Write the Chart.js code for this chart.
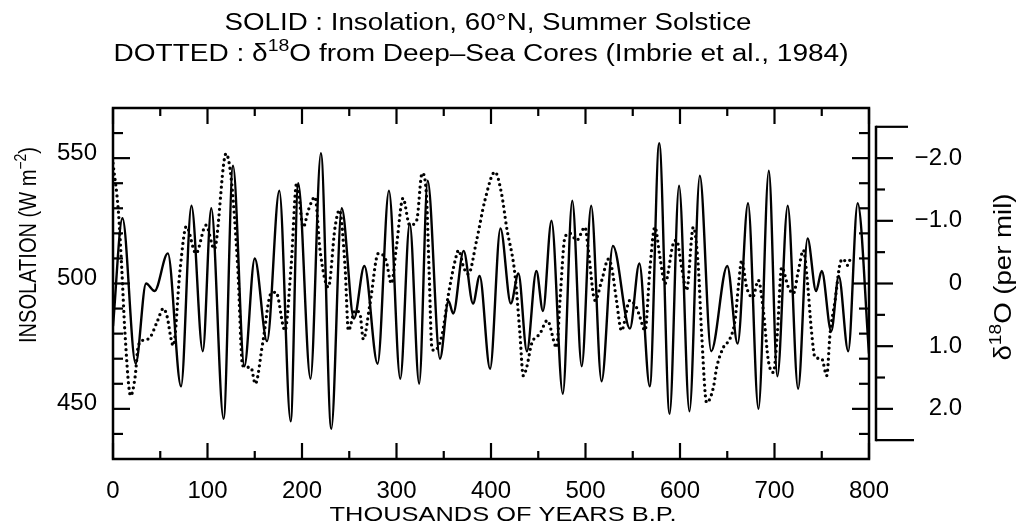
<!DOCTYPE html>
<html>
<head>
<meta charset="utf-8">
<script src="https://cdn.jsdelivr.net/npm/chart.js@4.4.1/dist/chart.umd.min.js"></script>
<style>
html,body{margin:0;padding:0;background:#ffffff;}
#wrap{width:1026px;height:524px;position:relative;}
</style>
</head>
<body>
<div id="wrap"><canvas id="c" width="1026" height="524"></canvas></div>
<script>
// ---- data ----
const insolKyr = [0,10,24,35,44,58,72,83,95,104,117,127,139,150,163,176,188,196,209,220,231,242,255,266,280,292,304,314,324,333,346,355,360,371,381,388,399,410,421,429,438,448,455,464,476,486,496,506,517,529,547,557,568,578,589,599,610,621,633,650,661,672,683,694,703,714,725,735,744,750,760,768,778,788,800];
const insolWm2 = [483,526,468,500,497,512,459,531,473,530,446,547,467,510,477,537,445,540,462,552,442,530,486,507,468,537,462,524,460,541,470,493,488,513,492,503,466,522,492,504,473,505,489,525,456,533,467,531,461,515,482,508,459,556,448,539,449,543,473,507,476,532,450,545,463,531,458,518,497,505,481,503,473,532,472];

const d18oKyr = [0,5.6,9.2,12.7,18.7,23.3,26.8,33,39.2,47,53.3,56.8,63.8,70.9,77.6,87.8,98.4,107.2,119.6,124.9,132,137.2,146,150.6,158.3,167.2,172.5,182,188.4,194.4,201.4,206.7,213.8,219.1,227.9,235,239.6,245.6,249.1,256.2,261.4,264.9,271.9,280.8,288.9,294.6,299.9,306.9,314,321.4,327.1,331.6,334.5,337.4,340.2,348,355.1,362.1,365.7,371,376,384.8,393.6,404.2,411.2,416.5,425.3,430.6,434.1,437.7,443,451.8,459.6,469.5,473,478.3,483.6,490.7,499.5,503,510.1,517.2,524.3,527.7,532.8,538.1,546.9,553.9,557.7,563,568.3,573.4,578.8,584.1,592.9,596.4,601.7,607,614.1,619.4,622.9,628.2,635.3,638.8,645.9,652.9,658.2,661.7,665.3,670.5,676.9,682.9,688.2,693.5,698.8,703,707.6,714.7,720,725.3,730.6,734.1,739.4,742.9,750,755.3,758.8,764.1,769.4,772.9,777.2,780.7];
const d18oPermil = [-1.92,-1.17,-0.26,0.8,1.79,1.5,0.99,0.9,0.86,0.6,0.4,0.5,0.99,-0.21,-0.91,-0.48,-0.93,-0.55,-2.07,-1.7,-0.26,1.31,1.34,1.6,0.96,0.16,0.14,0.75,-0.26,-1.6,-0.9,-1.17,-1.38,-0.53,0.06,-0.9,-1.17,-0.26,0.75,0.43,0.49,0.89,0.33,-0.48,-0.37,0.0,-0.58,-1.36,-0.93,-1.01,-1.76,-1.43,-0.2,1.02,1.07,0.83,0.16,-0.37,-0.53,-0.26,-0.15,-0.69,-1.33,-1.78,-1.43,-0.9,-0.15,0.8,1.47,1.34,0.96,0.8,0.59,1.02,0.27,-0.74,-0.8,-0.69,-0.9,-0.53,0.27,-0.05,-0.39,-0.26,0.27,0.75,0.27,0.38,0.54,0.75,-0.26,-0.9,-0.42,0.0,-0.64,-0.69,-0.26,0.11,-0.9,-0.26,0.8,1.9,1.66,1.34,1.02,0.88,0.59,0.06,-0.37,0.06,0.22,-0.05,0.43,1.23,1.42,0.8,-0.26,0.06,0.16,-0.21,-0.53,-0.15,0.8,1.18,1.2,1.47,0.8,0.27,-0.32,-0.39,-0.29,-0.42];

// ---- ticks and labels ----
const xMajorTicks = [0,100,200,300,400,500,600,700,800];
const xMinorTicks = [50,150,250,350,450,550,650,750];
const yMajorTicks = [450,500,550];
const yMinorTicks = [440,460,470,480,490,510,520,530,540,560];
const y2MajorTicks = [-2,-1,0,1,2];
const y2MinorTicks = [-1.5,-0.5,0.5,1.5];
const y2BracketEnds = [-2.5,2.5];

// text pieces: [text, isSuperscript]
const titleLine1 = [["SOLID : Insolation, 60°N, Summer Solstice", false]];
const titleLine2 = [["DOTTED : δ", false], ["18", true], ["O from Deep\u2013Sea Cores (Imbrie et al., 1984)", false]];
const xTitle = [["THOUSANDS OF YEARS B.P.", false]];
const yTitle = [["INSOLATION (W m", false], ["\u22122", true], [")", false]];
const y2Title = [["δ", false], ["18", true], ["O (per mil)", false]];

const FONT = '"Liberation Sans", Arial, "DejaVu Sans", sans-serif';
const SUP_SCALE = 0.68;

function drawRich(ctx, pieces, cx, cy, size, targetW, rot) {
  ctx.save();
  const fMain = size + 'px ' + FONT;
  const fSup = Math.round(size * SUP_SCALE) + 'px ' + FONT;
  let total = 0;
  const widths = pieces.map(([t, sup]) => { ctx.font = sup ? fSup : fMain; const w = ctx.measureText(t).width; total += w; return w; });
  ctx.translate(cx, cy);
  if (rot) ctx.rotate(rot);
  ctx.scale(targetW / total, 1);
  ctx.textAlign = 'left';
  ctx.textBaseline = 'middle';
  ctx.fillStyle = '#000';
  let x = -total / 2;
  pieces.forEach(([t, sup], i) => {
    ctx.font = sup ? fSup : fMain;
    ctx.fillText(t, x, sup ? -size * 0.36 : 0);
    x += widths[i];
  });
  ctx.restore();
}

const decorPlugin = {
  id: 'decor',
  afterDraw(chart) {
    const ctx = chart.ctx;
    const ca = chart.chartArea;
    const xs = chart.scales.x, ys = chart.scales.y, y2 = chart.scales.y2;
    ctx.save();
    ctx.strokeStyle = '#000';
    ctx.lineWidth = 2.5;
    ctx.lineCap = 'butt';
    ctx.strokeRect(ca.left, ca.top, ca.right - ca.left, ca.bottom - ca.top);
    ctx.lineWidth = 2.2;
    const seg = (x1, y1, x2, y2_) => { ctx.beginPath(); ctx.moveTo(x1, y1); ctx.lineTo(x2, y2_); ctx.stroke(); };
    xMajorTicks.forEach(v => { const p = xs.getPixelForValue(v); seg(p, ca.bottom, p, ca.bottom - 16); seg(p, ca.top, p, ca.top + 16); });
    xMinorTicks.forEach(v => { const p = xs.getPixelForValue(v); seg(p, ca.bottom, p, ca.bottom - 8); seg(p, ca.top, p, ca.top + 8); });
    yMajorTicks.forEach(v => { const p = ys.getPixelForValue(v); seg(ca.left, p, ca.left + 17, p); seg(ca.right, p, ca.right - 17, p); });
    yMinorTicks.forEach(v => { const p = ys.getPixelForValue(v); seg(ca.left, p, ca.left + 10, p); seg(ca.right, p, ca.right - 10, p); });
    // right bracket axis for delta 18O
    const bx = ca.right + 7;
    const bt = y2.getPixelForValue(y2BracketEnds[0]);
    const bb = y2.getPixelForValue(y2BracketEnds[1]);
    ctx.lineWidth = 2.5;
    seg(bx, bt - 1, bx, bb + 1);
    ctx.lineWidth = 2.2;
    seg(bx, bt, bx + 32, bt);
    seg(bx, bb, bx + 38, bb);
    y2MajorTicks.forEach(v => { const p = y2.getPixelForValue(v); seg(bx, p, bx + 17, p); });
    y2MinorTicks.forEach(v => { const p = y2.getPixelForValue(v); seg(bx, p, bx + 9, p); });
    ctx.restore();
    // titles
    drawRich(ctx, titleLine1, 488, 24, 23, 527, 0);
    drawRich(ctx, titleLine2, 481, 55, 23, 735, 0);
    drawRich(ctx, xTitle, 503, 515, 21, 347, 0);
    drawRich(ctx, yTitle, 30, 245, 23, 196, -Math.PI / 2);
    drawRich(ctx, y2Title, 1005, 277, 23, 167, -Math.PI / 2);
  }
};

const insolPoints = insolKyr.map((k, i) => ({ x: k, y: insolWm2[i] }));
const d18oPoints = d18oKyr.map((k, i) => ({ x: k, y: d18oPermil[i] }));

new Chart(document.getElementById('c'), {
  type: 'line',
  data: {
    datasets: [
      {
        label: 'Insolation, 60°N, Summer Solstice',
        data: insolPoints,
        yAxisID: 'y',
        borderColor: '#000',
        borderWidth: 2.4,
        pointRadius: 0,
        fill: false,
        cubicInterpolationMode: 'monotone'
      },
      {
        label: 'δ18O from Deep-Sea Cores',
        data: d18oPoints,
        yAxisID: 'y2',
        borderColor: '#000',
        borderWidth: 3.3,
        borderDash: [0, 5.5],
        borderCapStyle: 'round',
        pointRadius: 0,
        fill: false,
        cubicInterpolationMode: 'monotone'
      }
    ]
  },
  options: {
    responsive: false,
    animation: false,
    devicePixelRatio: 1,
    layout: { padding: { top: 108, right: 64, left: 0, bottom: 0 } },
    plugins: { legend: { display: false }, title: { display: false }, tooltip: { enabled: false } },
    scales: {
      x: {
        type: 'linear', position: 'bottom', min: 0, max: 800,
        grid: { display: false, drawTicks: false }, border: { display: false },
        ticks: { color: '#000', font: { family: FONT, size: 24 }, padding: 18, maxRotation: 0, autoSkip: false },
        afterBuildTicks: s => { s.ticks = xMajorTicks.map(v => ({ value: v })); },
        afterFit: s => { s.height = 65; }
      },
      y: {
        type: 'linear', position: 'left', min: 430, max: 570,
        grid: { display: false, drawTicks: false }, border: { display: false },
        ticks: { color: '#000', font: { family: FONT, size: 24 }, padding: 16, labelOffset: -5 },
        afterBuildTicks: s => { s.ticks = yMajorTicks.map(v => ({ value: v })); },
        afterFit: s => { s.width = 113; }
      },
      y2: {
        type: 'linear', position: 'right', min: -2.8, max: 2.8, reverse: true,
        grid: { display: false, drawTicks: false }, border: { display: false },
        ticks: {
          color: '#000', font: { family: FONT, size: 24 }, crossAlign: 'far',
          callback: v => v === 0 ? '0' : (v < 0 ? '\u2212' : '') + Math.abs(v).toFixed(1)
        },
        afterBuildTicks: s => { s.ticks = y2MajorTicks.map(v => ({ value: v })); },
        afterFit: s => { s.width = 93; }
      }
    }
  },
  plugins: [decorPlugin]
});
</script>
</body>
</html>
